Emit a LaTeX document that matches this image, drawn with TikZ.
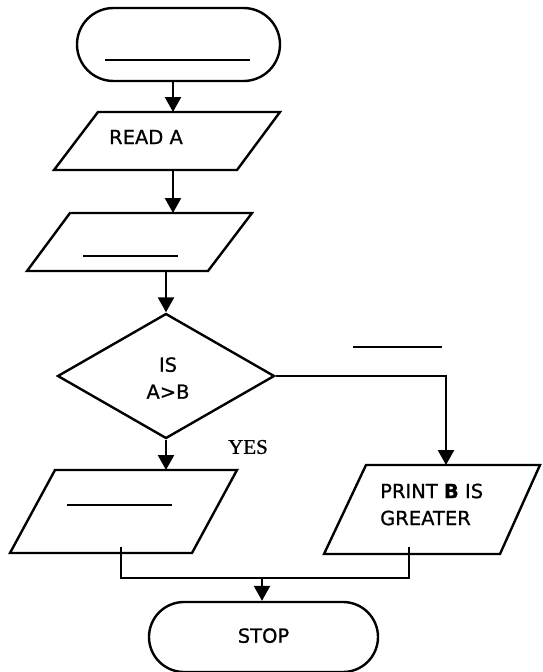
\documentclass[tikz,border=0pt]{standalone}
\usepackage{fontspec}
\newfontfamily\boxfont[FakeBold=0.8]{DejaVu Sans}
\newfontfamily\yesfont[FakeBold=0.8]{Liberation Serif}
\usetikzlibrary{shapes.misc,shapes.geometric,arrows.meta}
\begin{document}
\begin{tikzpicture}[x=1pt,y=-1pt,
  line width=2.4pt,
  figshape/.style={draw,line width=2.4pt,line join=miter},
  term/.style={draw,rounded rectangle,line width=2.4pt,inner sep=0pt},
  dec/.style={draw,diamond,line width=2.4pt,inner sep=0pt},
  lbl/.style={font=\boxfont\fontsize{19.5}{27}\selectfont,inner sep=0pt,align=center},
  yeslbl/.style={font=\yesfont\fontsize{21}{24}\selectfont,inner sep=0pt},
  blank/.style={line width=2.2pt},
  conn/.style={line width=2.4pt},
  arr/.style={line width=2.4pt,-{Triangle[width=16pt,length=15pt]}}]
\useasboundingbox (0,0) rectangle (542,672);

% start terminal
\node[term,minimum width=203pt,minimum height=73pt] (start) at (178.5,44.5) {};
\draw[blank] (105,60) -- (250,60);

% READ A
\draw[figshape] (98,112) -- (280,112) -- (237,170) -- (54,170) -- cycle;
\node[lbl] (readA) at (146,137) {READ A};
\coordinate (readAin) at (173,112);
\coordinate (readAout) at (173,170);

% second input
\draw[figshape] (70,213) -- (252,213) -- (208,271) -- (27,271) -- cycle;
\draw[blank] (83,256) -- (178,256);
\coordinate (p2in) at (173,213);
\coordinate (p2out) at (166,271);

% decision
\node[dec,minimum width=217pt,minimum height=125pt] (dec) at (166,376) {};
\node[lbl] (q) at (168,378) {IS\\A>B};
\draw[blank] (353,347) -- (442,347);
\node[yeslbl] (yes) at (248,447) {YES};

% left output
\draw[figshape] (55,470) -- (237,470) -- (192,553) -- (10,553) -- cycle;
\draw[blank] (67,505) -- (172,505);
\coordinate (lpin) at (166,470);
\coordinate (lpout) at (121,547);

% right output
\draw[figshape] (366,465) -- (540,465) -- (500,554) -- (324,554) -- cycle;
\node[lbl,align=left,anchor=west] (pr) at (379,504.5) {PRINT {\bfseries B} IS\\GREATER};
\coordinate (rpin) at (446,465);
\coordinate (rpout) at (409,547);

% stop
\node[term,minimum width=229pt,minimum height=70pt,font=\boxfont\fontsize{19.5}{27}\selectfont] (stop) at (263.5,637) {\raisebox{3pt}{STOP}};
\coordinate (merge) at (262,578);

% connectors
\draw[arr] (start.south -| readAin) -- (readAin);
\draw[arr] (readAout) -- (p2in);
\draw[arr] (p2out) -- (dec.north);
\draw[arr] (dec.east) -- (dec.east -| rpin) -- (rpin);
\draw[arr] (dec.south) -- (lpin);
\draw[conn] (lpout) |- (merge) -| (rpout);
\draw[arr] (merge) -- (merge |- stop.north);
\end{tikzpicture}
\end{document}
